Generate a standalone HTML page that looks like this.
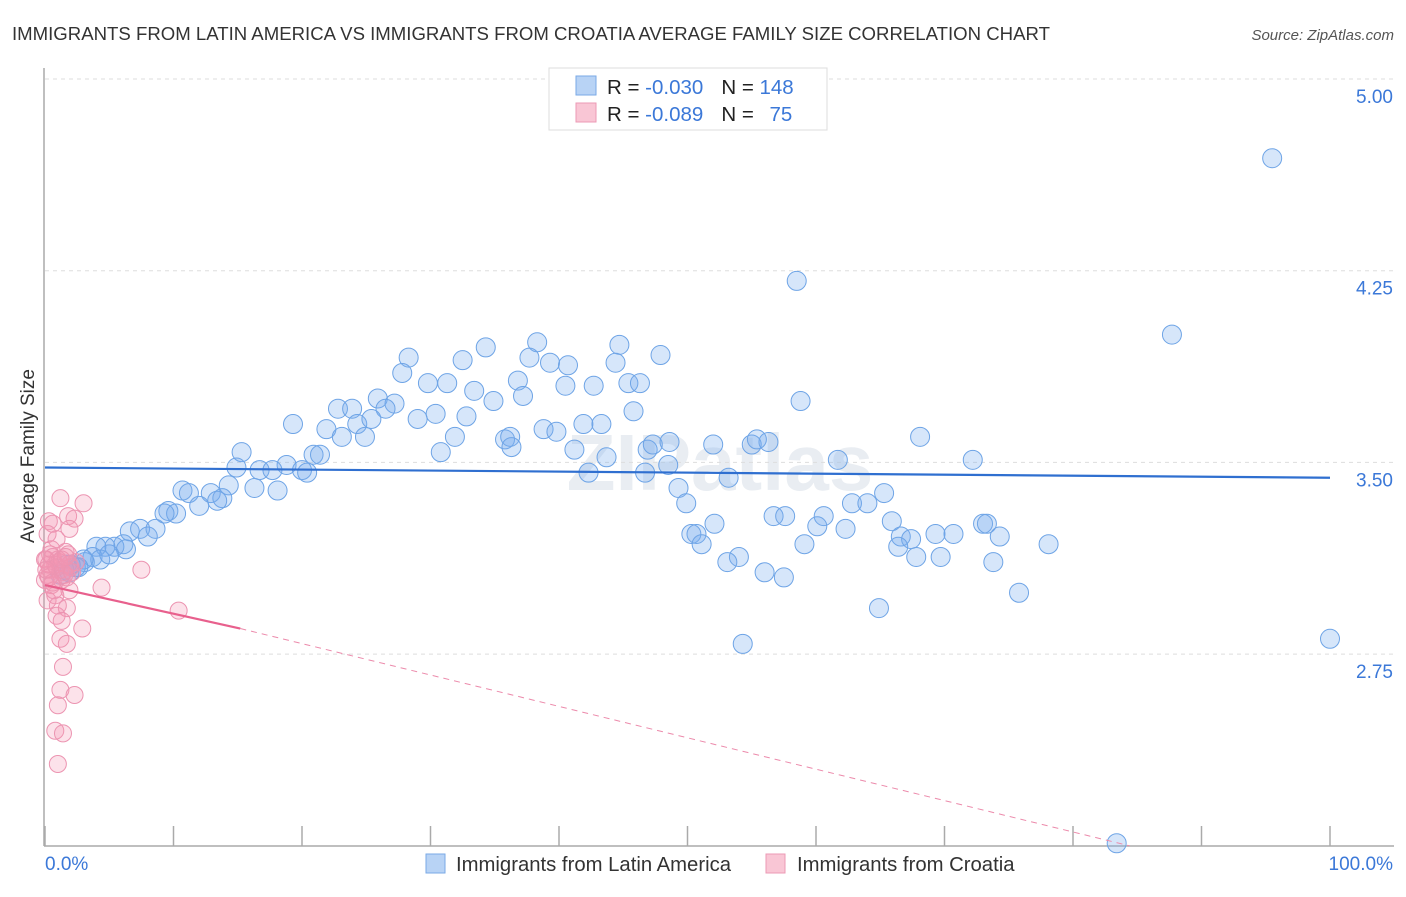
<!DOCTYPE html>
<html><head><meta charset="utf-8"><style>
body{margin:0;background:#fff;font-family:"Liberation Sans",sans-serif;}
svg text{font-family:"Liberation Sans",sans-serif;}
</style></head><body>
<svg id="chart" width="1406" height="892" xmlns="http://www.w3.org/2000/svg">
<text x="12" y="40" font-size="18.6" fill="#333">IMMIGRANTS FROM LATIN AMERICA VS IMMIGRANTS FROM CROATIA AVERAGE FAMILY SIZE CORRELATION CHART</text>
<text x="1394" y="40" font-size="15" fill="#555" font-style="italic" text-anchor="end">Source: ZipAtlas.com</text>
<text x="720" y="490" font-size="80" fill="#e9edf2" text-anchor="middle" font-weight="bold">ZIPatlas</text>
<g id="grid"></g>
<line x1="44" y1="68" x2="44" y2="846" stroke="#aaa" stroke-width="1.5"/>
<line x1="44" y1="846" x2="1394" y2="846" stroke="#aaa" stroke-width="1.5"/>
<text transform="translate(34,456) rotate(-90)" font-size="19" fill="#333" text-anchor="middle">Average Family Size</text>
<text x="45" y="870" font-size="19" fill="#3b78d8">0.0%</text>
<text x="1393" y="870" font-size="19" fill="#3b78d8" text-anchor="end">100.0%</text>
<g id="points"></g>
<g id="lines"></g>
<g>
<rect x="549" y="68" width="278" height="62" fill="#fff" stroke="#ddd"/>
<rect x="576" y="76" width="20" height="19" fill="#b8d3f5" stroke="#7aaae6"/>
<rect x="576" y="103" width="20" height="19" fill="#f9c6d5" stroke="#ec9ab5"/>
<text x="607" y="94" font-size="20.5" fill="#222">R = <tspan fill="#3b78d8">-0.030</tspan><tspan dx="18">N = </tspan><tspan fill="#3b78d8">148</tspan></text>
<text x="607" y="121" font-size="20.5" fill="#222">R = <tspan fill="#3b78d8">-0.089</tspan><tspan dx="18">N = </tspan><tspan fill="#3b78d8" dx="10">75</tspan></text>
</g>
<g>
<rect x="426" y="854" width="19" height="19" fill="#b8d3f5" stroke="#7aaae6"/>
<text x="456" y="871" font-size="20.3" fill="#333">Immigrants from Latin America</text>
<rect x="766" y="854" width="19" height="19" fill="#f9c6d5" stroke="#ec9ab5"/>
<text x="797" y="871" font-size="20.3" fill="#333">Immigrants from Croatia</text>
</g>
</svg>
<script>
const yTicks=[5.00,4.25,3.50,2.75];
const yTickLabels=["5.00","4.25","3.50","2.75"];
const xTicks=[0,10,20,30,40,50,60,70,80,90,100];
const blueX=[95.5,58.5,87.7,34.3,38.3,44.7,47.9,28.3,32.5,37.7,39.3,40.7,44.4,27.8,29.8,31.3,36.8,40.5,42.7,45.4,46.3,33.4,34.9,37.2,25.9,27.2,26.5,22.8,23.9,30.4,29.0,32.8,45.8,58.8,19.3,21.9,23.1,24.3,24.9,25.4,38.8,39.8,41.9,43.3,35.8,36.2,31.9,30.8,36.3,41.2,43.7,46.9,47.3,48.6,52.0,55.0,56.3,55.4,68.1,72.2,15.3,20.9,21.4,18.8,14.9,16.7,17.7,20.0,20.4,48.5,53.2,61.7,46.7,42.3,14.3,16.3,18.1,10.7,11.2,12.9,13.8,13.4,12.0,9.6,10.2,9.3,49.3,49.9,62.8,64.0,65.3,56.7,57.6,60.6,60.1,65.9,73.0,73.3,52.1,6.6,7.4,8.6,8.0,50.3,50.7,51.1,62.3,69.3,70.7,66.6,67.4,74.3,66.4,59.1,78.1,6.1,5.4,4.7,4.0,6.3,3.7,3.1,4.3,2.4,1.7,1.9,1.2,54.0,53.1,56.0,57.5,67.8,69.7,73.8,75.8,64.9,54.3,100,83.4,2.0,3.0,1.5,5.0,2.6];
const blueY=[4.69,4.21,4.00,3.95,3.97,3.96,3.92,3.91,3.90,3.91,3.89,3.88,3.89,3.85,3.81,3.81,3.82,3.80,3.80,3.81,3.81,3.78,3.74,3.76,3.75,3.73,3.71,3.71,3.71,3.69,3.67,3.68,3.70,3.74,3.65,3.63,3.60,3.65,3.60,3.67,3.63,3.62,3.65,3.65,3.59,3.60,3.60,3.54,3.56,3.55,3.52,3.55,3.57,3.58,3.57,3.57,3.58,3.59,3.60,3.51,3.54,3.53,3.53,3.49,3.48,3.47,3.47,3.47,3.46,3.49,3.44,3.51,3.46,3.46,3.41,3.40,3.39,3.39,3.38,3.38,3.36,3.35,3.33,3.31,3.30,3.30,3.40,3.34,3.34,3.34,3.38,3.29,3.29,3.29,3.25,3.27,3.26,3.26,3.26,3.23,3.24,3.24,3.21,3.22,3.22,3.18,3.24,3.22,3.22,3.21,3.20,3.21,3.17,3.18,3.18,3.18,3.17,3.17,3.17,3.16,3.13,3.11,3.12,3.09,3.10,3.07,3.06,3.13,3.11,3.07,3.05,3.13,3.13,3.11,2.99,2.93,2.79,2.81,2.01,3.10,3.12,3.08,3.14,3.09];
const pinkX=[1.2,3.0,1.8,0.3,2.3,1.9,0.6,0.2,0.9,1.6,0.4,0,0.8,1.2,0.2,1.3,0.5,1.7,1.9,0.8,0.2,1.0,1.7,7.5,4.4,10.4,2.9,0.9,1.3,1.2,1.7,1.4,1.2,2.3,1.0,0.8,1.4,1.0,0.4,0.1,0.5,1.0,1.4,1.9,0,0.7,0.3,1.1,2.0,0.6,1.5,0.9,2.4,0.3,1.8,1.3,0.1,0.6,2.1,1.6];
const pinkY=[3.36,3.34,3.29,3.27,3.28,3.24,3.26,3.22,3.20,3.15,3.14,3.12,3.10,3.08,3.06,3.04,3.02,3.05,3.00,2.98,2.96,2.94,2.93,3.08,3.01,2.92,2.85,2.90,2.88,2.81,2.79,2.70,2.61,2.59,2.55,2.45,2.44,2.32,3.08,3.12,3.16,3.12,3.07,3.10,3.04,3.00,3.10,3.11,3.09,3.13,3.06,3.09,3.11,3.05,3.14,3.12,3.08,3.03,3.07,3.13];
const blueLine=[[0,3.48],[100,3.44]];
const pinkLine=[[0,3.02],[15.2,2.85],[84.4,2.0]];
const NS="http://www.w3.org/2000/svg";
function sx(v){return 45+v*12.85;}
function sy(v){return 79+(5-v)*255.6;}
function mk(tag,attrs,parent){const e=document.createElementNS(NS,tag);for(const k in attrs)e.setAttribute(k,attrs[k]);parent.appendChild(e);return e;}
const grid=document.getElementById('grid');
yTicks.forEach((t,i)=>{
 const l=mk('line',{x1:45,x2:1394,y1:sy(t),y2:sy(t),stroke:'#ddd','stroke-dasharray':'4,4'},grid);
 
 
 const tx=mk('text',{x:1393,y:sy(t)+24,'font-size':19,fill:'#3b78d8','text-anchor':'end'},grid);
 tx.textContent=yTickLabels[i];
 
 
});
xTicks.forEach(t=>{
 const l=mk('line',{x1:sx(t),x2:sx(t),y1:826,y2:846,stroke:'#aaa','stroke-width':1.5},grid);
 
 
});
const pts=document.getElementById('points');
blueX.forEach((x,i)=>{
 const c=mk('circle',{cx:sx(x),cy:sy(blueY[i]),r:9.5,fill:'rgba(120,172,238,0.3)',stroke:'#6ea4e6','stroke-width':1},pts);
 
 
});
pinkX.forEach((x,i)=>{
 const c=mk('circle',{cx:sx(x),cy:sy(pinkY[i]),r:8.5,fill:'rgba(244,150,178,0.28)',stroke:'#ec94b1','stroke-width':1},pts);
 
 
});
const lg=document.getElementById('lines');
const bl=mk('line',{x1:sx(blueLine[0][0]),y1:sy(blueLine[0][1]),x2:sx(blueLine[1][0]),y2:sy(blueLine[1][1]),stroke:'#2f6fd0','stroke-width':2.2},lg);


const pl=mk('line',{x1:sx(pinkLine[0][0]),y1:sy(pinkLine[0][1]),x2:sx(pinkLine[1][0]),y2:sy(pinkLine[1][1]),stroke:'#e8608d','stroke-width':2.2},lg);


const pd=mk('line',{x1:sx(pinkLine[1][0]),y1:sy(pinkLine[1][1]),x2:sx(pinkLine[2][0]),y2:sy(pinkLine[2][1]),stroke:'#ec8aab','stroke-width':1,'stroke-dasharray':'6,5'},lg);


</script>
</body></html>
